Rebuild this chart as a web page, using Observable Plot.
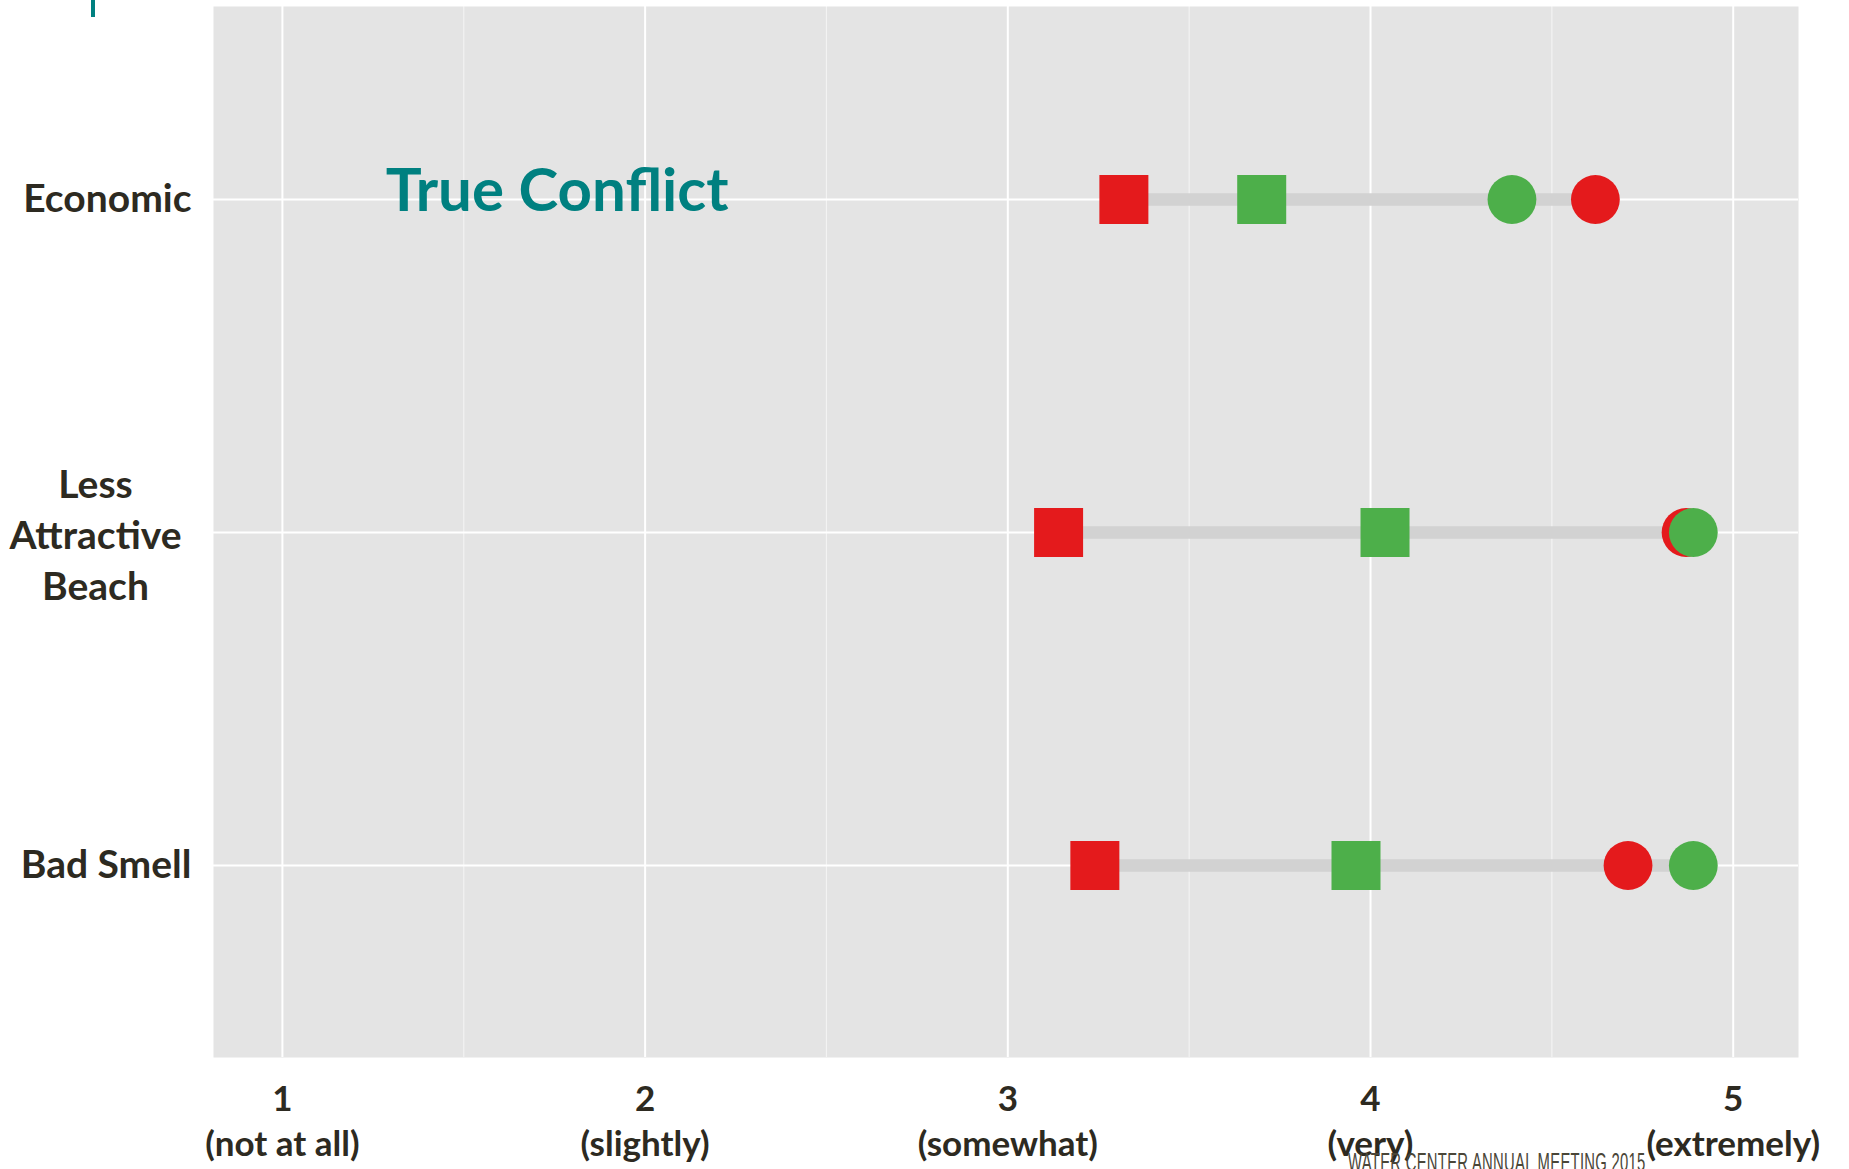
<!DOCTYPE html>
<html>
<head>
<meta charset="utf-8">
<script src="https://cdn.jsdelivr.net/npm/d3@7"></script>
<script src="https://cdn.jsdelivr.net/npm/@observablehq/plot@0.6"></script>
<style>
  html, body { margin: 0; padding: 0; background: #ffffff; overflow: hidden; }
  #wrap { position: relative; width: 1849px; height: 1169px; }
  #bar { position: absolute; left: 91px; top: 0; width: 4px; height: 17px; background: #008080; }
  #footer {
    position: absolute; left: 1348px; top: 1149px; white-space: nowrap;
    font-family: "Liberation Sans", Arial, sans-serif; font-size: 26px; line-height: 1;
    color: #4a4638; transform: scaleX(0.57); transform-origin: left top; letter-spacing: 0.5px;
  }
</style>
</head>
<body>
<div id="wrap">
  <div id="chart"></div>
  <div id="bar"></div>
  <div id="footer">WATER CENTER ANNUAL MEETING 2015</div>
</div>
<script>
// ---- data ----
const categories = ["Economic", "Less Attractive Beach", "Bad Smell"];
const redSquare   = [3.32, 3.14, 3.24];
const greenSquare = [3.70, 4.04, 3.96];
const redCircle   = [4.62, 4.87, 4.71];
const greenCircle = [4.39, 4.89, 4.89];
const xTicks = [1, 2, 3, 4, 5];
const xTickLabels = ["(not at all)", "(slightly)", "(somewhat)", "(very)", "(extremely)"];
const minorTicks = [1.5, 2.5, 3.5, 4.5];
const annotationText = "True Conflict";
const annotationX = 1.285;
const annotationCategory = "Economic";

// ---- derived tables ----
const rows = categories.map((c, i) => {
  const vals = [redSquare[i], greenSquare[i], redCircle[i], greenCircle[i]];
  return {category: c, lo: d3.min(vals), hi: d3.max(vals)};
});
const pts = (arr) => categories.map((c, i) => ({category: c, value: arr[i]}));

const RED = "#e41a1c", GREEN = "#4daf4a", INK = "#2d2a21", TEAL = "#008080";
const FONT = "Lato, 'Open Sans', sans-serif";
const SQ_R = 49 / Math.sqrt(Math.PI);   // square side ~49px
const CI_R = 24.4;                      // circle diameter ~49px

const chart = Plot.plot({
  width: 1849,
  height: 1169,
  marginLeft: 213,
  marginRight: 51,
  marginTop: 6,
  marginBottom: 112,
  style: {background: "#ffffff", fontFamily: FONT, overflow: "visible"},
  x: {domain: [0.81, 5.18]},
  y: {domain: categories, type: "point", padding: 0.578},
  marks: [
    Plot.frame({fill: "#e4e4e4", stroke: "none"}),
    Plot.gridX(minorTicks, {stroke: "#ffffff", strokeOpacity: 0.55, strokeWidth: 1.2}),
    Plot.gridX(xTicks, {stroke: "#ffffff", strokeOpacity: 1, strokeWidth: 2}),
    Plot.gridY(categories, {stroke: "#ffffff", strokeOpacity: 1, strokeWidth: 2}),
    Plot.ruleY(rows, {y: "category", x1: "lo", x2: "hi", stroke: "#d2d2d2", strokeWidth: 12.7}),
    Plot.dot(pts(redSquare), {x: "value", y: "category", symbol: "square", r: SQ_R, fill: RED}),
    Plot.dot(pts(greenSquare), {x: "value", y: "category", symbol: "square", r: SQ_R, fill: GREEN}),
    Plot.dot(pts(redCircle), {x: "value", y: "category", symbol: "circle", r: CI_R, fill: RED}),
    Plot.dot(pts(greenCircle), {x: "value", y: "category", symbol: "circle", r: CI_R, fill: GREEN}),
    Plot.text([{label: annotationText, x: annotationX, category: annotationCategory}], {
      x: "x", y: "category", text: "label", textAnchor: "start", dy: -8,
      fontSize: 60, fontWeight: "bold", fill: TEAL, fontFamily: FONT
    }),
    Plot.axisX({
      ticks: xTicks, tickSize: 0, tickPadding: 21,
      tickFormat: (d) => `${d}\n${xTickLabels[xTicks.indexOf(d)]}`,
      fontSize: 35, fontWeight: "bold", fill: INK, lineHeight: 1.29, label: null, fontFamily: FONT
    }),
    Plot.axisY({
      ticks: ["Economic", "Bad Smell"], tickSize: 0, tickPadding: 22,
      fontSize: 39, fontWeight: "bold", fill: INK, label: null, fontFamily: FONT
    }),
    Plot.axisY({
      ticks: ["Less Attractive Beach"], tickSize: 0, tickPadding: 118, textAnchor: "middle",
      tickFormat: (d) => d.replace(/ /g, "\n"),
      fontSize: 39, fontWeight: "bold", fill: INK, lineHeight: 1.31, label: null, fontFamily: FONT
    })
  ]
});
document.getElementById("chart").appendChild(chart);
</script>
</body>
</html>
